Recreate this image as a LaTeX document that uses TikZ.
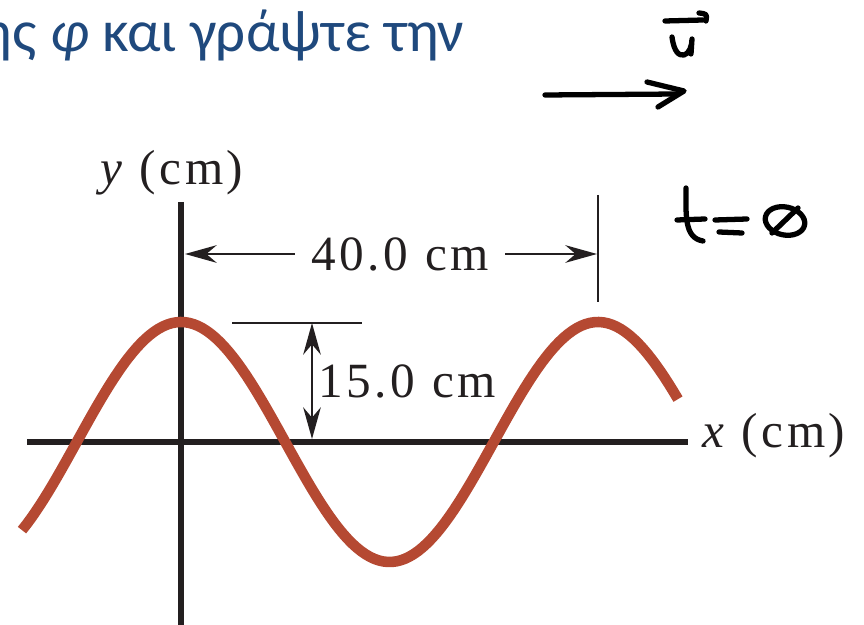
\documentclass[tikz,border=0pt]{standalone}
\usepackage{fontspec}
\setmainfont{Liberation Serif}
\newfontfamily\slidefont{Carlito}
\newfontfamily\figfont{Liberation Serif}[LetterSpace=7, WordSpace=1.1]
\usetikzlibrary{arrows.meta,positioning,calc}
\definecolor{wavered}{RGB}{181,73,50}
\definecolor{slideblue}{RGB}{31,73,125}
\definecolor{inkgray}{RGB}{35,31,32}

\begin{document}
\begin{tikzpicture}[x=0.01cm, y=-0.01cm,
  axis/.style={line width=1.7pt, inkgray},
  thinl/.style={line width=0.75pt, inkgray},
  dim/.style={line width=0.75pt, inkgray, -{Stealth[length=9pt, width=5pt]}},
  pen/.style={line width=1.5pt, line cap=round, line join=round},
  lbl/.style={font=\figfont\fontsize{14}{17}\selectfont, text=inkgray, inner sep=0pt}]
  \useasboundingbox (0,0) rectangle (864,625);
  \clip (0,0) rectangle (864,625);
  % Texte de la diapositive
  \node[anchor=base east, text=slideblue, inner sep=0pt,
    font=\slidefont\fontsize{16.8}{20}\selectfont] (title) at (465,52)
    {ης {\itshape φ} και γράψτε την};
  % Axes
  \node[lbl, anchor=base west] (xlab) at (702,448) {{\itshape x} (cm)};
  \node[lbl, anchor=base west] (ylab) at (100,185) {{\itshape y} (cm)};
  \coordinate (xl) at (27,442);
  \coordinate (xr) at (688,442);
  \coordinate (yt) at (181,202);
  \coordinate (yb) at (181,630);
  \draw[axis] (xl) -- (xr);
  \draw[axis] (yt) -- (yb);
  % Onde a t = 0
  \draw[wavered, line width=3pt]
    plot[domain=22:678, samples=150] (\x, {442-120*cos((\x-181)/417*360)});
  % Longueur d'onde
  \coordinate (lt) at (598,195);
  \coordinate (lb) at (598,302);
  \draw[thinl] (lt) -- (lb);
  \node[lbl, inner xsep=4.5pt] (lam) at (400,254) {40.0 cm};
  \coordinate (la) at (185,254);
  \coordinate (lr) at (597,254);
  \draw[dim] (lam.west) -- (la);
  \draw[dim] (lam.east) -- (lr);
  % Amplitude
  \coordinate (al) at (232,323);
  \coordinate (ar) at (362,323);
  \draw[thinl] (al) -- (ar);
  \coordinate (at) at (312,323);
  \coordinate (ab) at (312,439);
  \draw[dim, {Stealth[length=9pt, width=5pt]}-{Stealth[length=9pt, width=5pt]}] (at) -- (ab);
  \node[lbl, anchor=base west] (amp) at (318,398) {15.0 cm};
  % Annotations a la main
  \draw[pen] (665,21) -- (703,20);
  \draw[pen] (699,13) .. controls (707,14) .. (706,21);
  \draw[pen] (672,37) .. controls (674,52) and (679,56) .. (684,55)
    .. controls (689,54) and (692,46) .. (692,39) -- (691,54);
  \draw[pen] (545,95) -- (678,94);
  \draw[pen] (647,82) -- (684,91) -- (658,107);
  \draw[pen] (686,188) .. controls (686,215) and (684,238) .. (703,241);
  \draw[pen] (677,220) -- (705,219);
  \draw[pen] (715,220) -- (747,219);
  \draw[pen] (719,232) -- (742,233);
  \draw[pen, rotate around={-12:(785,221)}] (785,221) ellipse (20 and 14);
  \draw[pen] (772,233) -- (798,208);
\end{tikzpicture}
\end{document}
